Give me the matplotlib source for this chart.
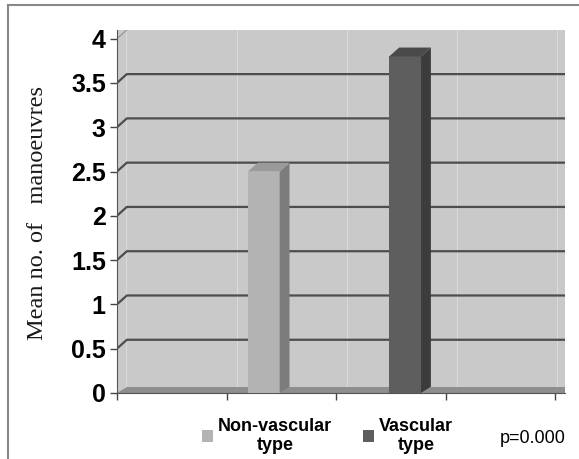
import numpy as np
import matplotlib.pyplot as plt
from matplotlib.patches import Polygon, Patch
from matplotlib.lines import Line2D

# data
groups = ['Non-vascular\ntype', 'Vascular\ntype']
means = [2.5, 3.8]
p_label = 'p=0.000'
y_ticks = [0, 0.5, 1, 1.5, 2, 2.5, 3, 3.5, 4]
y_tick_labels = ['0', '0.5', '1', '1.5', '2', '2.5', '3', '3.5', '4']

# layout / style
bar_pos = [1.34, 2.63]
bar_w = 0.29
dx, dy = 0.09, 0.1          # fake 3d depth
front = ['#b3b3b3', '#5e5e5e']
side = ['#7c7c7c', '#3c3c3c']
top = ['#9a9a9a', '#4a4a4a']

plt.rcParams['font.family'] = ['Liberation Sans', 'DejaVu Sans']

fig = plt.figure(figsize=(5.79, 4.59), dpi=100)
ax = fig.add_axes([0.202, 0.144, 0.774, 0.791])
ax.set_facecolor('#c9c9c9')
ax.set_xlim(0, 4.09)
ax.set_ylim(0, 4 + dy)

# back wall gridlines with a diagonal on the left wall
for v in y_ticks[1:-1]:
    ax.plot([0, dx, 4.09], [v, v + dy, v + dy], color='#4d4d4d', lw=1.6, zorder=1)
ax.plot([0, dx], [4, 4 + dy], color='#9a9a9a', lw=1, zorder=1)
# faint vertical wall lines
for xv in [0.08, 1.1, 2.1, 3.1, 4.02]:
    ax.axvline(xv, color='#dadada', lw=0.8, zorder=0.5)
# floor
ax.add_patch(Polygon([[0, 0], [4.09, 0], [4.09, dy * 0.7], [dx, dy * 0.7]], closed=True,
                     facecolor='#8e8e8e', edgecolor='none', zorder=1.5))

bars = ax.bar(bar_pos, means, width=bar_w, color=front, edgecolor='none', zorder=3)
for b, sc, tc in zip(bars, side, top):
    x0 = b.get_x()
    x1 = x0 + b.get_width()
    h = b.get_height()
    ax.add_patch(Polygon([[x1, 0], [x1 + dx, dy * 0.7], [x1 + dx, h + dy], [x1, h]],
                         closed=True, facecolor=sc, edgecolor='none', zorder=3))
    ax.add_patch(Polygon([[x0, h], [x1, h], [x1 + dx, h + dy], [x0 + dx, h + dy]],
                         closed=True, facecolor=tc, edgecolor='none', zorder=3))

ax.set_yticks(y_ticks)
ax.set_yticklabels(y_tick_labels, fontsize=18, fontweight='bold')
ax.set_xticks([0, 1, 2, 3, 4])
ax.set_xticklabels([])
ax.tick_params(axis='y', direction='out', length=5, width=1, color='#444', pad=3)
ax.tick_params(axis='x', direction='out', length=5, width=1, color='#444')
for s in ['top', 'right']:
    ax.spines[s].set_visible(False)
ax.spines['left'].set_color('#555')
ax.spines['bottom'].set_color('#555')

fig.text(0.064, 0.535, 'Mean no. of   manoeuvres', rotation=90, ha='center', va='center',
         fontsize=17.5, family=['Liberation Serif', 'DejaVu Serif'], color='#1a1a1a')

handles = [Patch(facecolor=front[0], edgecolor='none'),
           Patch(facecolor=front[1], edgecolor='none'),
           Line2D([], [], color='none')]
leg = fig.legend(handles, groups + [p_label], loc='center', bbox_to_anchor=(0.663, 0.05),
                 ncol=3, frameon=False, handlelength=0.6, handleheight=0.6,
                 handletextpad=0.3, columnspacing=1.7, prop={'size': 13, 'weight': 'bold'})
for t in leg.get_texts()[:2]:
    t.set_multialignment('center')
leg.get_texts()[2].set_fontweight('normal')

# outer frame (top and left edges)
fig.add_artist(Line2D([0.013, 0.013], [0, 0.989], color='#888', lw=1.5, transform=fig.transFigure))
fig.add_artist(Line2D([0.013, 1.0], [0.989, 0.989], color='#888', lw=1.5, transform=fig.transFigure))

fig.savefig('out.png', dpi=100)
